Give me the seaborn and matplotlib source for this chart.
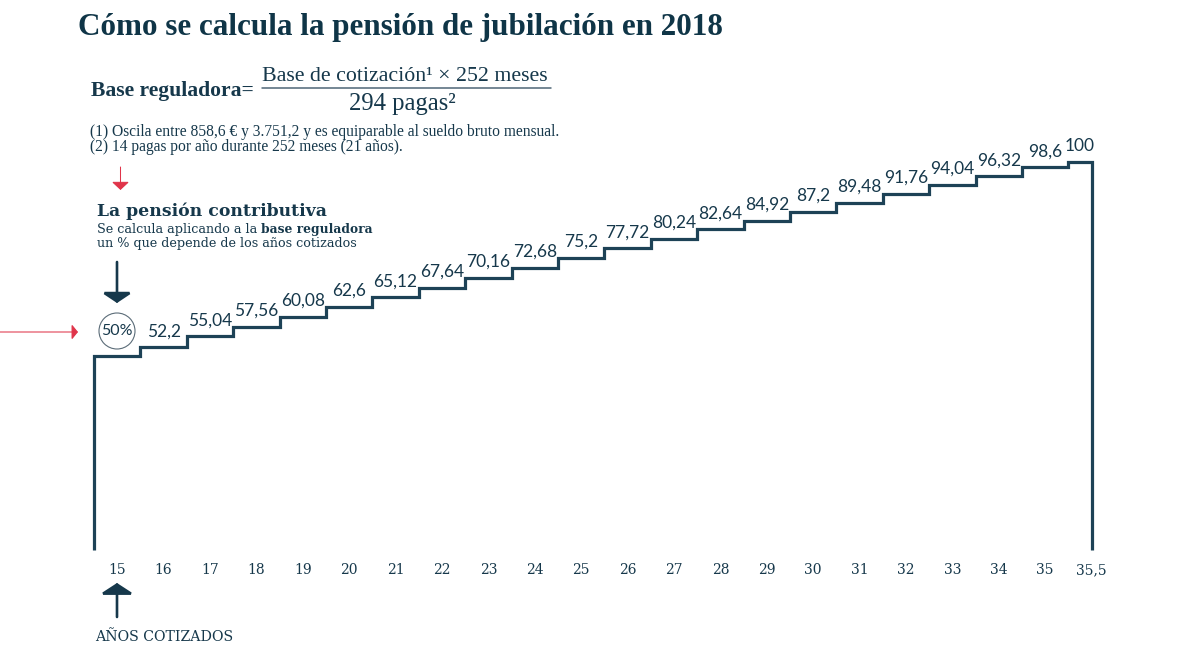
import numpy as np
import pandas as pd
import seaborn as sns
import matplotlib
matplotlib.use("Agg")
import matplotlib.pyplot as plt
from matplotlib.patches import Circle, FancyArrowPatch

# ---------------- data ----------------
years = ["15", "16", "17", "18", "19", "20", "21", "22", "23", "24", "25",
         "26", "27", "28", "29", "30", "31", "32", "33", "34", "35", "35,5"]
pct = [50, 52.2, 55.04, 57.56, 60.08, 62.6, 65.12, 67.64, 70.16, 72.68, 75.2,
       77.72, 80.24, 82.64, 84.92, 87.2, 89.48, 91.76, 94.04, 96.32, 98.6, 100]

title = "Cómo se calcula la pensión de jubilación en 2018"
formula_left = "Base reguladora="
formula_num = "Base de cotización¹ × 252 meses"
formula_den = "294 pagas²"
note1 = "(1) Oscila entre 858,6 € y 3.751,2 y es equiparable al sueldo bruto mensual."
note2 = "(2) 14 pagas por año durante 252 meses (21 años)."
head = "La pensión contributiva"
sub1a = "Se calcula aplicando a la "
sub1b = "base reguladora"
sub2 = "un % que depende de los años cotizados"
xlabel = "AÑOS COTIZADOS"

NAVY = "#16384b"
LINE = "#1d4256"
TITLE = "#0f3547"
RED = "#e0344a"

sns.set_theme(style="white")
plt.rcParams["font.family"] = ["DejaVu Serif", "DejaVu Sans"]

W, H = 1200, 662
fig = plt.figure(figsize=(12, 6.62), dpi=100)
fig.patch.set_facecolor("white")

# data axes: x unit = 46.4 px, step 0 centre at 117.2 px; y=0 at 550 px, 3.88 px/unit
ux, x0 = 46.4, 117.2
uy, ybase = 3.88, 550
ax = fig.add_axes([0, (H - ybase) / H, 1, ybase / H])
ax.set_xlim(-x0 / ux, (W - x0) / ux)
ax.set_ylim(0, ybase / uy)
ax.set_facecolor("none")

idx = np.arange(len(pct))
left = idx - 0.5
right = idx + 0.5
right[-1] = idx[-1]
xs = [left[0]]
ys = [0]
for l, r, v in zip(left, right, pct):
    xs += [l, r]
    ys += [v, v]
xs.append(right[-1])
ys.append(0)
df = pd.DataFrame({"x": xs, "y": ys})
sns.lineplot(data=df, x="x", y="y", sort=False, estimator=None, ax=ax,
             color=LINE, linewidth=2.3, clip_on=False,
             solid_joinstyle="miter", solid_capstyle="butt")

for i in range(1, len(pct)):
    cx = (left[i] + right[i]) / 2
    lab = f"{pct[i]:g}".replace(".", ",")
    ax.annotate(lab, (cx, pct[i]), xytext=(0, 8), textcoords="offset points",
                ha="center", va="baseline", fontsize=12.5, color=NAVY,
                family=["Lato", "DejaVu Sans"])

ax.set_xticks(idx)
ax.set_xticklabels(years, fontsize=10, color=NAVY, family=["DejaVu Serif"])
ax.tick_params(axis="x", length=0, pad=9.5)
ax.set_yticks([])
ax.set_xlabel("")
ax.set_ylabel("")
for s in ax.spines.values():
    s.set_visible(False)

# overlay axes in pixel coordinates for annotations
ov = fig.add_axes([0, 0, 1, 1])
ov.set_xlim(0, W)
ov.set_ylim(H, 0)
ov.axis("off")
ov.set_facecolor("none")

fig.canvas.draw()
rend = fig.canvas.get_renderer()


def fit(t, w):
    bb = t.get_window_extent(rend)
    t.set_fontsize(t.get_fontsize() * w / bb.width)
    return t


t = ov.text(78, 35, title, fontsize=20, fontweight="bold", color=TITLE,
            family=["Liberation Serif", "DejaVu Serif"], va="baseline")
fit(t, 645)

t = ov.text(91, 96, formula_left, fontsize=14, fontweight="bold", color=NAVY,
            family=["Liberation Serif", "DejaVu Serif"], va="baseline")
fit(t, 164)
t = ov.text(405, 81, formula_num, fontsize=14, color=NAVY,
            family=["Liberation Serif", "DejaVu Serif"], va="baseline", ha="center")
fit(t, 288)
t = ov.text(402, 110, formula_den, fontsize=14, color=NAVY,
            family=["Liberation Serif", "DejaVu Serif"], va="baseline", ha="center")
fit(t, 107)
ov.plot([262, 551], [88, 88], color="#4e6676", lw=1.1)

t = ov.text(90, 136, note1, fontsize=8, color=NAVY,
            family=["Liberation Serif", "DejaVu Serif"], va="baseline")
fit(t, 470)
ov.text(90, 151, note2, fontsize=t.get_fontsize(), color=NAVY,
        family=["Liberation Serif", "DejaVu Serif"], va="baseline")

t = ov.text(97, 216, head, fontsize=12, fontweight="bold", color=NAVY,
            family=["DejaVu Serif"], va="baseline")
fit(t, 230)
t2 = ov.text(97, 247, sub2, fontsize=8.5, color=NAVY, family=["DejaVu Serif"],
             va="baseline")
fit(t2, 261)
fs = t2.get_fontsize()
ta = ov.text(97, 233, sub1a, fontsize=fs, color=NAVY, family=["DejaVu Serif"],
             va="baseline")
bb = ta.get_window_extent(rend)
ov.text(bb.x1, 233, sub1b, fontsize=fs * 0.96, color=NAVY, fontweight="bold",
        family=["DejaVu Serif"], va="baseline")

t = ov.text(95, 641, xlabel, fontsize=10, color=NAVY, family=["DejaVu Serif"],
            va="baseline")
fit(t, 138)

# circle with 50%
ov.add_patch(Circle((117, 331), 18, facecolor="none", edgecolor="#5b6c78", lw=0.8))
ov.text(117, 331, "50%", fontsize=11.5, color=NAVY, ha="center", va="center",
        family=["Lato", "DejaVu Sans"])


def arrow(p0, p1, color, lw, hw, hl):
    ov.add_patch(FancyArrowPatch(p0, p1, arrowstyle=f"-|>,head_width={hw},head_length={hl}",
                                 mutation_scale=1, color=color, lw=lw,
                                 shrinkA=0, shrinkB=0, joinstyle="miter"))


arrow((117, 262), (117, 303), NAVY, 1.9, 9, 6)
arrow((117, 617), (117, 583), NAVY, 1.9, 10, 6.5)
arrow((120.5, 167), (120.5, 190), RED, 0.75, 5.4, 5)
arrow((0, 332), (78, 332), RED, 0.75, 4.7, 3.8)

fig.savefig("out.png", dpi=100, facecolor="white")
